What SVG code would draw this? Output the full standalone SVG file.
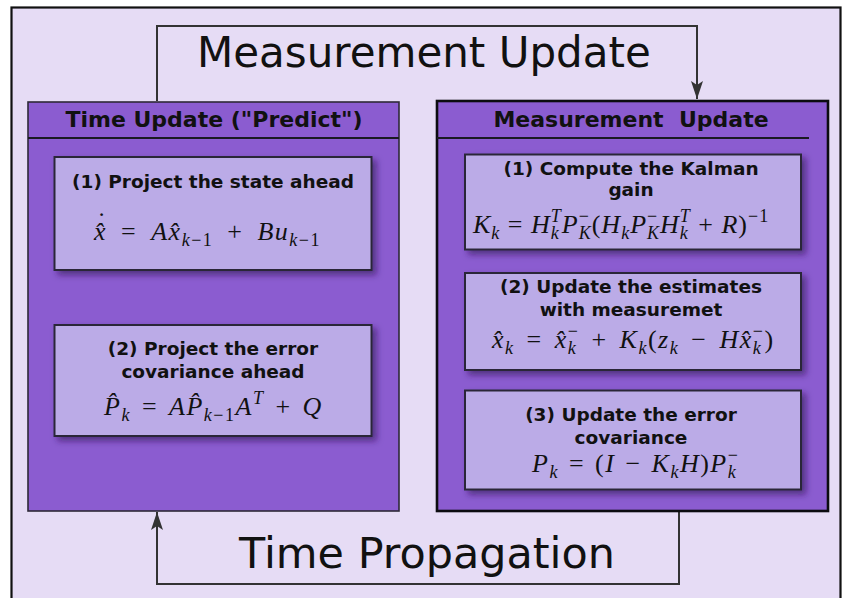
<svg xmlns="http://www.w3.org/2000/svg" width="844" height="598" viewBox="0 0 844 598">
<style>
.bg{fill:#e6dcf5;stroke:#111;stroke-width:2.2}
.panel{fill:#8b5cd0}
.panelL{stroke:#2e2a38;stroke-width:1.6}
.panelR{stroke:#0c0c10;stroke-width:2.6}
.sep{stroke:#1a1a22;stroke-width:1.8}
.box{fill:#bbabe7;stroke:#2b2838;stroke-width:2}
.big{font-family:"DejaVu Sans","Verdana",sans-serif;font-size:42px;fill:#111}
.head{font-family:"DejaVu Sans","Verdana",sans-serif;font-weight:bold;font-size:22px;fill:#111;white-space:pre}
.title{font-family:"DejaVu Sans","Verdana",sans-serif;font-weight:bold;font-size:18.5px;fill:#111;text-anchor:middle}
.math{font-family:"Liberation Serif","DejaVu Serif",serif;font-size:26px;fill:#111;letter-spacing:1.5px}
.i{font-style:italic}
.s{font-size:18px}
.conn{fill:none;stroke:#333;stroke-width:2}
</style>
<defs>
<marker id="arr" markerUnits="userSpaceOnUse" viewBox="0 -7 18 14" markerWidth="18" markerHeight="14" refX="18" refY="0" orient="auto">
<path d="M18,0 L0,-6 L4,0 L0,6 Z" fill="#333"/>
</marker>
<filter id="sh" x="-10%" y="-10%" width="125%" height="135%">
<feDropShadow dx="4" dy="4" stdDeviation="3" flood-color="#2a1550" flood-opacity="0.6"/>
</filter>
</defs>

<rect class="bg" x="11.5" y="7.5" width="829" height="600"/>

<g id="connectors">
<path class="conn" d="M157,101 V26 H697 V99" marker-end="url(#arr)"/>
<path class="conn" d="M679,511 V584 H157 V512" marker-end="url(#arr)"/>
</g>

<g id="label-measurement-update">
<text class="big" x="197" y="67">Measurement Update</text>
</g>
<g id="label-time-propagation">
<text class="big" x="239" y="568" textLength="376" lengthAdjust="spacingAndGlyphs">Time Propagation</text>
</g>

<g id="time-update-panel">
<rect class="panel panelL" x="28" y="102" width="371" height="409"/>
<line class="sep" x1="28" y1="138" x2="399" y2="138"/>
<text class="head" x="214" y="127" text-anchor="middle">Time Update ("Predict")</text>
</g>

<g id="measurement-update-panel">
<rect class="panel panelR" x="437" y="101" width="391" height="410"/>
<line class="sep" x1="437" y1="138" x2="809" y2="138"/>
<text class="head" x="631" y="127" text-anchor="middle">Measurement  Update</text>
</g>

<g id="project-state">
<rect class="box" x="54.5" y="157" width="317" height="113" filter="url(#sh)"/>
<text class="title" x="213" y="188">(1) Project the state ahead</text>
<text class="math" x="94" y="240" style="word-spacing:6px"><tspan class="i">x&#x302;</tspan> = <tspan class="i">Ax&#x302;</tspan><tspan class="s i" dy="6">k</tspan><tspan class="s">−1</tspan><tspan dy="-6"> + </tspan><tspan class="i">Bu</tspan><tspan class="s i" dy="6">k</tspan><tspan class="s">−1</tspan></text>
<text class="math" x="101.5" y="230" text-anchor="middle" style="letter-spacing:0">˙</text>
</g>

<g id="project-covariance">
<rect class="box" x="54.5" y="325" width="317" height="111" filter="url(#sh)"/>
<text class="title" x="213" y="355">(2) Project the error</text>
<text class="title" x="213" y="378">covariance ahead</text>
<text class="math" x="104" y="415" style="word-spacing:3px"><tspan class="i">P&#x302;</tspan><tspan class="s i" dy="6">k</tspan><tspan dy="-6"> = </tspan><tspan class="i">AP&#x302;</tspan><tspan class="s i" dy="6">k</tspan><tspan class="s">−1</tspan><tspan class="i" dy="-6">A</tspan><tspan class="s i" dy="-11">T</tspan><tspan dy="11"> + </tspan><tspan class="i">Q</tspan></text>
</g>

<g id="kalman-gain">
<rect class="box" x="465" y="154.5" width="336" height="95" filter="url(#sh)"/>
<text class="title" x="631" y="175">(1) Compute the Kalman</text>
<text class="title" x="631" y="196">gain</text>
<text class="math" x="473" y="233" style="letter-spacing:1px"><tspan class="i">K</tspan><tspan class="s i" dy="6">k</tspan><tspan dy="-6"> = </tspan><tspan class="i">H</tspan><tspan class="s i" dy="-11">T</tspan><tspan class="s i" dx="-11" dy="17">k</tspan><tspan class="i" dx="2" dy="-6">P</tspan><tspan class="s" dy="-11">−</tspan><tspan class="s i" dx="-11.2" dy="17">K</tspan><tspan dy="-6">(</tspan><tspan class="i">H</tspan><tspan class="s i" dy="6">k</tspan><tspan class="i" dy="-6">P</tspan><tspan class="s" dy="-11">−</tspan><tspan class="s i" dx="-11.2" dy="17">K</tspan><tspan class="i" dy="-6">H</tspan><tspan class="s i" dy="-11">T</tspan><tspan class="s i" dx="-11" dy="17">k</tspan><tspan dx="2" dy="-6"> + </tspan><tspan class="i">R</tspan>)<tspan class="s" dy="-11">−1</tspan></text>
</g>

<g id="update-estimate">
<rect class="box" x="465" y="273" width="336" height="97" filter="url(#sh)"/>
<text class="title" x="631" y="293">(2) Update the estimates</text>
<text class="title" x="631" y="316">with measuremet</text>
<text class="math" x="492" y="348" style="word-spacing:4px"><tspan class="i">x&#x302;</tspan><tspan class="s i" dy="6">k</tspan><tspan dy="-6"> = </tspan><tspan class="i">x&#x302;</tspan><tspan class="s" dy="-11">−</tspan><tspan class="s i" dx="-11.7" dy="17">k</tspan><tspan dx="2.2" dy="-6"> + </tspan><tspan class="i">K</tspan><tspan class="s i" dy="6">k</tspan><tspan dy="-6">(</tspan><tspan class="i">z</tspan><tspan class="s i" dy="6">k</tspan><tspan dy="-6"> − </tspan><tspan class="i">Hx&#x302;</tspan><tspan class="s" dy="-11">−</tspan><tspan class="s i" dx="-11.7" dy="17">k</tspan><tspan dx="2.2" dy="-6">)</tspan></text>
</g>

<g id="update-covariance">
<rect class="box" x="465" y="390.5" width="336" height="99" filter="url(#sh)"/>
<text class="title" x="631" y="421">(3) Update the error</text>
<text class="title" x="631" y="444">covariance</text>
<text class="math" x="532" y="472" style="word-spacing:2px"><tspan class="i">P</tspan><tspan class="s i" dy="6">k</tspan><tspan dy="-6"> = (</tspan><tspan class="i">I</tspan> − <tspan class="i">K</tspan><tspan class="s i" dy="6">k</tspan><tspan class="i" dy="-6">H</tspan>)<tspan class="i">P</tspan><tspan class="s" dy="-11">−</tspan><tspan class="s i" dx="-11.7" dy="17">k</tspan></text>
</g>
</svg>
